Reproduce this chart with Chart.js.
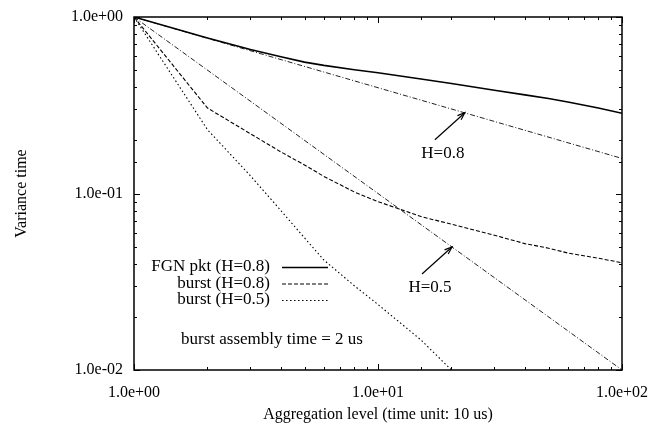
<!DOCTYPE html>
<html>
<head>
<meta charset="utf-8">
<script src="https://cdn.jsdelivr.net/npm/chart.js@4/dist/chart.umd.min.js"></script>
<style>
  html, body { margin: 0; padding: 0; background: #fff; }
  #wrap { width: 652px; height: 424px; }
</style>
</head>
<body>
<div id="wrap"><canvas id="chart" width="652" height="424"></canvas></div>
<script>
// aggregation levels and measured variance-time values
const aggLevels = [1, 2, 3, 4, 5, 6, 8, 10, 15, 20, 30, 40, 50, 60, 80, 100];
const fgnPkt = [1, 0.76, 0.655, 0.595, 0.555, 0.532, 0.503, 0.483, 0.445, 0.42, 0.385, 0.362, 0.345, 0.33, 0.305, 0.285];
const burstH08 = [1, 0.305, 0.218, 0.172, 0.145, 0.125, 0.102, 0.09, 0.074, 0.067, 0.058, 0.052, 0.049, 0.046, 0.043, 0.0405];

const burstH05Levels = [1, 2, 3, 4, 5, 6, 8, 10, 15, 20];
const burstH05 = [1, 0.23, 0.126, 0.08, 0.056, 0.042, 0.03, 0.0235, 0.0148, 0.01];

// reference slopes for H=0.8 and H=0.5
const refLevels = [1, 100];
const refH08 = [1, 0.158];
const refH05 = [1, 0.01];

const seriesNames = ['FGN pkt (H=0.8)', 'burst (H=0.8)', 'burst (H=0.5)'];
const noteText = 'burst assembly time = 2 us';
const arrowLabels = ['H=0.8', 'H=0.5'];
const arrowTipX = [22.7, 20.1];
const arrowTipY = [0.287, 0.0498];

const FONT = 'Liberation Serif';
const pts = (xs, ys) => xs.map((x, i) => ({ x, y: ys[i] }));
const isDecade = v => Math.abs(Math.log10(v) - Math.round(Math.log10(v))) < 1e-9;
const expLabel = v => v.toExponential(1).replace(/e([+-])(\d)$/, 'e$10$2');

const plotFrame = {
  id: 'plotFrame',
  afterDatasetsDraw(chart) {
    const { ctx, chartArea: a, scales } = chart;
    ctx.save();
    ctx.strokeStyle = '#000';
    ctx.lineWidth = 1;
    ctx.setLineDash([]);
    const seg = (x1, y1, x2, y2) => { ctx.beginPath(); ctx.moveTo(x1, y1); ctx.lineTo(x2, y2); ctx.stroke(); };

    // inward ticks on all four sides
    scales.x.ticks.forEach(t => {
      const px = Math.round(scales.x.getPixelForValue(t.value)) + 0.5;
      const len = isDecade(t.value) ? 6 : 3;
      seg(px, a.bottom, px, a.bottom - len);
      seg(px, a.top, px, a.top + len);
    });
    scales.y.ticks.forEach(t => {
      const py = Math.round(scales.y.getPixelForValue(t.value)) + 0.5;
      const len = isDecade(t.value) ? 6 : 3;
      seg(a.left, py, a.left + len, py);
      seg(a.right, py, a.right - len, py);
    });
    ctx.lineWidth = 1.5;
    ctx.strokeRect(a.left, a.top, a.right - a.left, a.bottom - a.top);

    // legend in the lower left of the plot
    ctx.font = `17px "${FONT}"`;
    ctx.fillStyle = '#000';
    ctx.textBaseline = 'middle';
    const textRight = a.left + 136;
    chart.data.datasets.filter(d => d.inLegend).forEach((d, i) => {
      const y = a.top + 250 + i * 16.5;
      ctx.textAlign = 'right';
      ctx.fillText(d.label, textRight, y);
      ctx.lineWidth = d.borderWidth;
      ctx.setLineDash(d.borderDash || []);
      seg(textRight + 12, y + 0.5, textRight + 58, y + 0.5);
    });
    ctx.setLineDash([]);
    ctx.textAlign = 'center';
    ctx.fillText(noteText, a.left + 138, a.top + 323);

    // arrows pointing at the reference lines
    ctx.lineWidth = 1.2;
    arrowLabels.forEach((label, i) => {
      const tx = scales.x.getPixelForValue(arrowTipX[i]);
      const ty = scales.y.getPixelForValue(arrowTipY[i]);
      const sx = tx - 30, sy = ty + 27;
      seg(sx, sy, tx, ty);
      const ang = Math.atan2(ty - sy, tx - sx);
      const head = 8;
      ctx.beginPath();
      ctx.moveTo(tx - head * Math.cos(ang - 0.35), ty - head * Math.sin(ang - 0.35));
      ctx.lineTo(tx, ty);
      ctx.lineTo(tx - head * Math.cos(ang + 0.35), ty - head * Math.sin(ang + 0.35));
      ctx.stroke();
      ctx.textAlign = 'center';
      ctx.fillText(label, tx - 22, ty + 41);
    });
    ctx.restore();
  }
};

new Chart(document.getElementById('chart'), {
  type: 'line',
  data: {
    datasets: [
      { label: seriesNames[0], data: pts(aggLevels, fgnPkt), borderColor: '#000', borderWidth: 1.6, inLegend: true },
      { label: seriesNames[1], data: pts(aggLevels, burstH08), borderColor: '#000', borderWidth: 1.1, borderDash: [4, 2], inLegend: true },
      { label: seriesNames[2], data: pts(burstH05Levels, burstH05), borderColor: '#000', borderWidth: 1.1, borderDash: [1.5, 2.5], inLegend: true },
      { label: 'H=0.8', data: pts(refLevels, refH08), borderColor: '#222', borderWidth: 1, borderDash: [5, 2, 1, 2] },
      { label: 'H=0.5', data: pts(refLevels, refH05), borderColor: '#222', borderWidth: 1, borderDash: [5, 2, 1, 2] }
    ]
  },
  options: {
    responsive: false,
    animation: false,
    events: [],
    layout: { padding: { top: 17, right: 30, bottom: 0, left: 0 } },
    elements: {
      point: { radius: 0 },
      line: { tension: 0, fill: false }
    },
    plugins: {
      legend: { display: false },
      tooltip: { enabled: false }
    },
    scales: {
      x: {
        type: 'logarithmic',
        min: 1,
        max: 100,
        grid: { display: false, drawTicks: false },
        border: { display: false },
        afterFit: s => { s.height = 54; s.paddingLeft = 0; s.paddingRight = 0; },
        ticks: {
          autoSkip: false,
          maxRotation: 0,
          padding: 13,
          color: '#000',
          font: { family: FONT, size: 16 },
          callback: v => isDecade(v) ? expLabel(v) : ''
        },
        title: {
          display: true,
          text: 'Aggregation level (time unit: 10 us)',
          color: '#000',
          font: { family: FONT, size: 16 },
          padding: { top: 0, bottom: 0 }
        }
      },
      y: {
        type: 'logarithmic',
        min: 0.01,
        max: 1,
        grid: { display: false, drawTicks: false },
        border: { display: false },
        afterFit: s => { s.width = 134; s.paddingTop = 0; s.paddingBottom = 0; },
        ticks: {
          autoSkip: false,
          padding: 11,
          color: '#000',
          font: { family: FONT, size: 16 },
          callback: v => isDecade(v) ? expLabel(v) : ''
        },
        title: {
          display: true,
          text: 'Variance time',
          color: '#000',
          font: { family: FONT, size: 16 },
          padding: { top: 12, bottom: 0 }
        }
      }
    }
  },
  plugins: [plotFrame]
});
</script>
</body>
</html>
